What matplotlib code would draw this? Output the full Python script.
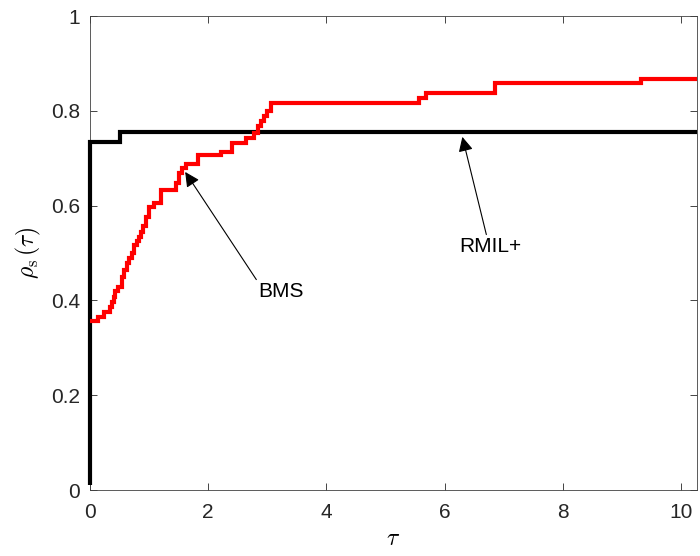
import matplotlib
matplotlib.use("Agg")
import matplotlib.pyplot as plt
from matplotlib.ticker import FuncFormatter

plt.rcParams['font.family'] = ['Liberation Sans', 'DejaVu Sans']
plt.rcParams['mathtext.fontset'] = 'cm'

# BMS performance profile (red)
bms_tau = [0.0, 0.13, 0.24, 0.34, 0.37, 0.40, 0.42, 0.48, 0.54, 0.58, 0.62, 0.66,
           0.71, 0.75, 0.79, 0.83, 0.86, 0.89, 0.94, 1.0, 1.08, 1.2, 1.45, 1.51,
           1.56, 1.62, 1.82, 2.21, 2.41, 2.64, 2.78, 2.84, 2.89, 2.95, 3.0, 3.06,
           5.56, 5.68, 6.85, 9.33, 10.27]
bms_rho = [0.357, 0.366, 0.376, 0.387, 0.397, 0.408, 0.42, 0.429, 0.45, 0.465, 0.479, 0.489,
           0.50, 0.517, 0.526, 0.534, 0.545, 0.556, 0.577, 0.598, 0.605, 0.633, 0.647, 0.669,
           0.679, 0.688, 0.706, 0.714, 0.732, 0.742, 0.753, 0.767, 0.778, 0.788, 0.80, 0.817,
           0.828, 0.838, 0.858, 0.868, 0.868]

# RMIL+ performance profile (black)
rmil_tau = [0.0, 0.0, 0.5, 10.27]
rmil_rho = [0.01, 0.735, 0.755, 0.755]

xticks = [0, 2, 4, 6, 8, 10]
yticks = [0, 0.2, 0.4, 0.6, 0.8, 1.0]

fig = plt.figure(figsize=(7.0, 5.56), dpi=100)
ax = fig.add_axes([0.1286, 0.1187, 0.9957 - 0.1286, 0.9712 - 0.1187])

ax.plot(rmil_tau, rmil_rho, drawstyle='steps-post', color='black', lw=3.0, clip_on=False,
        solid_capstyle='butt', solid_joinstyle='miter', zorder=3)
ax.plot(bms_tau, bms_rho, drawstyle='steps-post', color='red', lw=3.0, clip_on=False,
        solid_capstyle='butt', solid_joinstyle='miter', zorder=3)

ax.set_xlim(0, 10.27)
ax.set_ylim(0, 1)
ax.set_xticks(xticks)
ax.set_yticks(yticks)
ax.yaxis.set_major_formatter(FuncFormatter(lambda v, p: ('%g' % v)))
ax.tick_params(direction='in', labelsize=15, length=5, width=0.6, colors='#262626',
               top=True, right=True)
ax.tick_params(axis='x', pad=9)
ax.tick_params(axis='y', pad=7)
for s in ax.spines.values():
    s.set_linewidth(0.6)
    s.set_color('#404040')

ax.set_xlabel(r'$\tau$', fontsize=17, labelpad=5)
ax.set_ylabel(r'$\rho_{\rm s}\,(\tau)$', fontsize=17, labelpad=6)

ap = dict(arrowstyle='-|>', mutation_scale=22, lw=0.8, color='black', shrinkA=0, shrinkB=0)
ax.annotate('BMS', xy=(1.61, 0.671), xytext=(3.23, 0.418), fontsize=15,
            ha='center', va='center', arrowprops=dict(ap, relpos=(0.0, 1.0)))
ax.annotate('RMIL+', xy=(6.3, 0.745), xytext=(6.77, 0.513), fontsize=15,
            ha='center', va='center', arrowprops=dict(ap, relpos=(0.45, 1.0)))

fig.savefig('out.png', dpi=100)
